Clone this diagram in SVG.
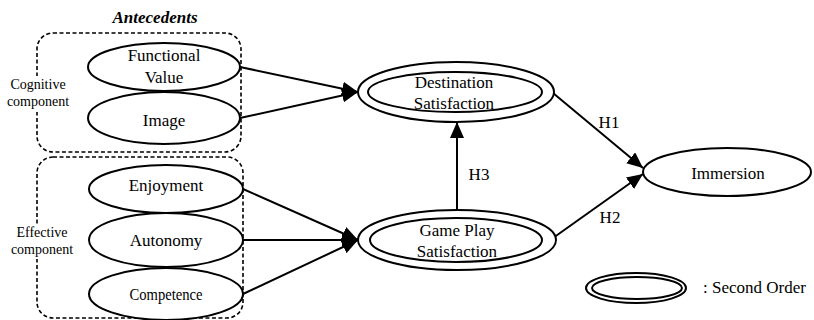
<svg xmlns="http://www.w3.org/2000/svg" width="814" height="320" viewBox="0 0 814 320">
<style>
.e{fill:#fff;stroke:#000;stroke-width:2}
.d{fill:none;stroke:#000;stroke-width:1.6;stroke-dasharray:4 2.5}
text{font-family:'Liberation Serif','Times New Roman',Times,'DejaVu Serif',serif;fill:#000;text-anchor:middle}
.t{font-size:17px}
.s{font-size:14px}
.c{stroke:#000;stroke-width:2;fill:none;marker-end:url(#ah)}
</style>
<defs>
<marker id="ah" markerUnits="userSpaceOnUse" markerWidth="17" markerHeight="15" refX="16" refY="7" orient="auto">
<path d="M0,0 L16,7 L0,14 z" fill="#000"/>
</marker>
</defs>
<text x="155" y="23" class="t" font-weight="bold" font-style="italic">Antecedents</text>
<g id="cognitive-group">
<rect x="37" y="33" width="204" height="119" rx="16" class="d"/>
<rect x="8" y="76" width="62" height="36" fill="#fff"/>
<text x="38" y="89" class="s">Cognitive</text>
<text x="38" y="106" class="s">component</text>
</g>
<g id="effective-group">
<rect x="37" y="157" width="206" height="161" rx="16" class="d"/>
<rect x="10" y="225" width="66" height="34" fill="#fff"/>
<text x="42" y="237" class="s">Effective</text>
<text x="42" y="254" class="s">component</text>
</g>
<g id="connectors">
<line x1="240" y1="67" x2="358" y2="92" class="c"/>
<line x1="240" y1="118" x2="358" y2="92" class="c"/>
<line x1="243" y1="189" x2="358" y2="240" class="c"/>
<line x1="243" y1="240" x2="358" y2="240" class="c"/>
<line x1="243" y1="294" x2="358" y2="240" class="c"/>
<line x1="457" y1="210" x2="457" y2="122" class="c"/>
<line x1="553" y1="93" x2="643" y2="168" class="c"/>
<line x1="553" y1="238" x2="643" y2="174" class="c"/>
<text x="609" y="128" class="t">H1</text>
<text x="610" y="223" class="t">H2</text>
<text x="479" y="180" class="t">H3</text>
</g>
<g id="functional-value">
<ellipse cx="164" cy="67" rx="76" ry="24" class="e"/>
<text x="164" y="61" class="t">Functional</text>
<text x="164" y="83" class="t">Value</text>
</g>
<g id="image">
<ellipse cx="164" cy="118" rx="76" ry="26" class="e"/>
<text x="164" y="126" class="t">Image</text>
</g>
<g id="enjoyment">
<ellipse cx="166" cy="189" rx="77" ry="24" class="e"/>
<text x="166" y="191" class="t">Enjoyment</text>
</g>
<g id="autonomy">
<ellipse cx="166" cy="240" rx="77" ry="27" class="e"/>
<text x="166" y="246" class="t">Autonomy</text>
</g>
<g id="competence">
<ellipse cx="166" cy="294" rx="77" ry="26" class="e"/>
<text x="166" y="300" class="t" textLength="73" lengthAdjust="spacingAndGlyphs">Competence</text>
</g>
<g id="destination-satisfaction">
<ellipse cx="456" cy="92" rx="98" ry="30" class="e"/>
<ellipse cx="455" cy="92" rx="87" ry="20" class="e"/>
<text x="454" y="88" class="t">Destination</text>
<text x="454" y="109" class="t">Satisfaction</text>
</g>
<g id="game-play-satisfaction">
<ellipse cx="457" cy="240" rx="99" ry="30" class="e"/>
<ellipse cx="456" cy="240" rx="86" ry="22" class="e"/>
<text x="457" y="236" class="t">Game Play</text>
<text x="457" y="257" class="t">Satisfaction</text>
</g>
<g id="immersion">
<ellipse cx="727" cy="172" rx="84" ry="24" class="e"/>
<text x="728" y="179" class="t">Immersion</text>
</g>
<g id="legend">
<ellipse cx="636" cy="288" rx="50" ry="15" class="e"/>
<ellipse cx="637" cy="288" rx="45" ry="11" class="e"/>
<text x="703" y="293" class="t" style="text-anchor:start">: Second Order</text>
</g>
</svg>
